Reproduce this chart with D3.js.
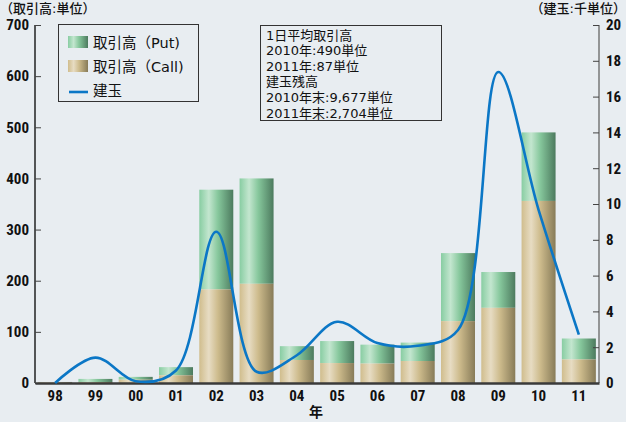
<!DOCTYPE html>
<html><head><meta charset="utf-8">
<script src="https://cdn.jsdelivr.net/npm/d3@7/dist/d3.min.js"></script>
<style>
html,body{margin:0;padding:0;background:#e8edf1;}
svg{display:block;}
.tick text{font-family:"Liberation Sans Narrow","Roboto Condensed","Arial Narrow","Liberation Sans",sans-serif;font-weight:bold;font-size:15px;fill:#111;}
.jp{font-family:"Noto Sans CJK JP","Noto Sans",sans-serif;fill:#111;}
.mix{font-family:"DejaVu Sans","Noto Sans CJK JP",sans-serif;fill:#111;}
</style></head>
<body>
<script>
const years = ["98","99","00","01","02","03","04","05","06","07","08","09","10","11"];
const callVals = [1.5, 2, 6.5, 15, 183, 194, 45, 39, 38, 43, 121, 147, 356, 46];
const totalVals = [2, 8, 12, 31, 378, 400, 72, 82, 75, 79, 254, 217, 490, 87];
const openInterest = [0, 1.42, 0.1, 0.7, 8.45, 0.63, 1.55, 3.42, 2.23, 2.08, 2.96, 17.37, 9.677, 2.704];
const leftTicks = [0,100,200,300,400,500,600,700];
const rightTicks = [0,2,4,6,8,10,12,14,16,18,20];
const legendLabels = ["取引高（Put)","取引高（Call)","建玉"];
const noteLines = ["1日平均取引高","2010年:490単位","2011年:87単位","建玉残高","2010年末:9,677単位","2011年末:2,704単位"];

const W=626,H=422;
const svg=d3.select("body").append("svg").attr("width",W).attr("height",H);
svg.append("rect").attr("width",W).attr("height",H).attr("fill","#e8edf1");

const defs=svg.append("defs");
function grad(id,stops){
  const g=defs.append("linearGradient").attr("id",id).attr("x1","0").attr("x2","1").attr("y1","0").attr("y2","0");
  stops.forEach(s=>g.append("stop").attr("offset",s[0]).attr("stop-color",s[1]));
}
grad("gPut",[[0,"#88cda2"],[0.28,"#c3e6cf"],[0.55,"#86c79c"],[1,"#4c7a5e"]]);
grad("gCall",[[0,"#d0bd8d"],[0.28,"#e7dcc3"],[0.55,"#cdbb8c"],[1,"#877b58"]]);

const x0=35,x1=599,yB=383,yT=25;
const x=d3.scaleBand().domain(years).range([x0,x1]).paddingInner(0.156).paddingOuter(0.078);
const yL=d3.scaleLinear().domain([0,700]).range([yB,yT]);
const yR=d3.scaleLinear().domain([0,20]).range([yB,yT]);

// bars
const data=years.map((d,i)=>({y:d,call:callVals[i],total:totalVals[i],oi:openInterest[i]}));
const bw=x.bandwidth();
svg.append("g").selectAll("rect").data(data).join("rect")
  .attr("x",d=>x(d.y)).attr("width",bw)
  .attr("y",d=>yL(d.total)).attr("height",d=>yL(d.call)-yL(d.total))
  .attr("fill","url(#gPut)");
svg.append("g").selectAll("rect").data(data).join("rect")
  .attr("x",d=>x(d.y)).attr("width",bw)
  .attr("y",d=>yL(d.call)).attr("height",d=>yB-yL(d.call))
  .attr("fill","url(#gCall)");

// axes
const axL=svg.append("g").attr("transform",`translate(${x0},0)`)
  .call(d3.axisLeft(yL).tickValues(leftTicks).tickSize(-6).tickPadding(6));
axL.select(".domain").attr("stroke","#222").attr("stroke-width",1.5).attr("d",`M0,${yT}V${yB}`);
axL.selectAll(".tick line").attr("stroke","#444");
const axR=svg.append("g").attr("transform",`translate(${x1},0)`)
  .call(d3.axisRight(yR).tickValues(rightTicks).tickSize(-6).tickPadding(6));
axR.select(".domain").attr("stroke","#777").attr("stroke-width",1.5).attr("d",`M0,${yT}V${yB}`);
axR.selectAll(".tick line").attr("stroke","#444");
axR.selectAll(".tick text").attr("x",7);

const axB=svg.append("g").attr("transform",`translate(0,${yB})`)
  .call(d3.axisBottom(x).tickSize(0).tickPadding(7));
axB.select(".domain").attr("stroke","#3a3a3a").attr("stroke-width",2.5);

// line
const line=d3.line().x(d=>x(d.y)+bw/2).y(d=>yR(d.oi)).curve(d3.curveCatmullRom.alpha(0.5));
svg.append("path").datum(data).attr("d",line).attr("fill","none")
  .attr("stroke","#0b77c6").attr("stroke-width",2.6).attr("stroke-linejoin","round");

// axis titles
svg.append("text").attr("class","mix").attr("x",0).attr("y",12.5).attr("font-size",13).attr("font-weight",500).text("（取引高:単位）");
svg.append("text").attr("class","mix").attr("x",626).attr("y",12.5).attr("text-anchor","end").attr("font-size",13).attr("font-weight",500).text("（建玉:千単位）");
svg.append("text").attr("class","jp").attr("x",316).attr("y",417).attr("text-anchor","middle").attr("font-size",14).attr("font-weight","bold").text("年");

// legend
const lg=svg.append("g");
lg.append("rect").attr("x",58.5).attr("y",24.5).attr("width",140).attr("height",77).attr("fill","none").attr("stroke","#333").attr("stroke-width",1);
const swF=["url(#gPut)","url(#gCall)"];
legendLabels.forEach((t,i)=>{
  const cy=42+i*24;
  if(i<2) lg.append("rect").attr("x",68).attr("y",cy-6).attr("width",20).attr("height",12).attr("fill",swF[i]);
  else lg.append("line").attr("x1",69).attr("x2",88).attr("y1",cy+2).attr("y2",cy+2).attr("stroke","#0b77c6").attr("stroke-width",2.6);
  lg.append("text").attr("class","mix").attr("x",93).attr("y",cy+5.5).attr("font-size",14.5).text(t);
});

// note box
const nb=svg.append("g");
nb.append("rect").attr("x",260.5).attr("y",25.5).attr("width",181).attr("height",95).attr("fill","none").attr("stroke","#333").attr("stroke-width",1);
noteLines.forEach((t,i)=>{
  nb.append("text").attr("class","mix").attr("x",266).attr("y",39.5+i*15.6).attr("font-size",13).text(t);
});
</script>
</body></html>
